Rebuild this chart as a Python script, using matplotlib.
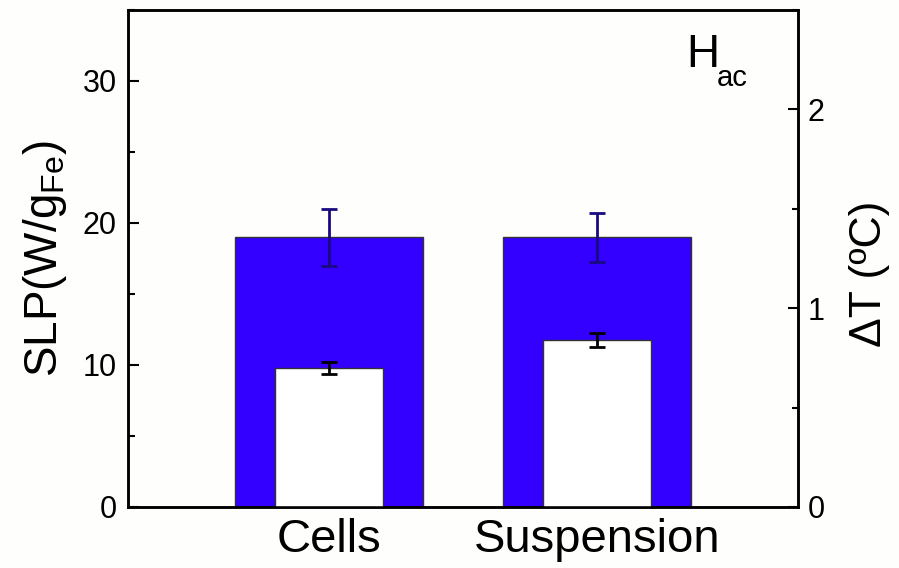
import matplotlib
matplotlib.use("Agg")
import matplotlib.pyplot as plt
from matplotlib.ticker import MultipleLocator

plt.rcParams['font.family'] = ['Liberation Sans', 'DejaVu Sans']
plt.rcParams['mathtext.default'] = 'regular'

# Data
categories = ["Cells", "Suspension"]
slp_values = [19.0, 19.0]          # W/g_Fe
slp_errors = [2.0, 1.72]
dt_values = [0.70, 0.84]           # degC
dt_errors = [0.03, 0.037]

positions = [1, 2]
bg = '#fefefc'

fig = plt.figure(figsize=(8.99, 5.68), dpi=100, facecolor=bg)
ax = fig.add_axes([128/899, 61/568, 670/899, 497/568], facecolor=bg)
ax2 = ax.twinx()

# SLP bars (left axis)
ax.bar(positions, slp_values, width=0.70, color='#3300ff', edgecolor='#333333',
       linewidth=1.0, zorder=2)
ax.errorbar(positions, slp_values, yerr=slp_errors, fmt='none', ecolor='#1a0a80',
            elinewidth=2.0, capsize=6, capthick=2.0, zorder=3)

# Temperature-rise bars (right axis)
ax2.bar(positions, dt_values, width=0.40, color='white', edgecolor='#333333',
        linewidth=1.0, zorder=2)
ax2.errorbar(positions, dt_values, yerr=dt_errors, fmt='none', ecolor='black',
             elinewidth=2.0, capsize=6, capthick=2.0, zorder=3)

ax.set_xlim(0.25, 2.75)
ax.set_ylim(0, 35)
ax2.set_ylim(0, 2.5)

ax.set_xticks(positions)
ax.set_xticklabels(categories, fontsize=34)
ax.tick_params(axis='x', length=0, pad=8)

ax.yaxis.set_major_locator(MultipleLocator(10))
ax.yaxis.set_minor_locator(MultipleLocator(5))
ax.tick_params(axis='y', which='major', direction='in', length=8, width=1.5,
               labelsize=22, pad=8)
ax.tick_params(axis='y', which='minor', direction='in', length=5, width=1.5)

ax2.yaxis.set_major_locator(MultipleLocator(1))
ax2.yaxis.set_minor_locator(MultipleLocator(0.5))
ax2.tick_params(axis='y', which='major', direction='in', length=7, width=1.5,
                labelsize=22, pad=7)
ax2.tick_params(axis='y', which='minor', direction='in', length=4, width=1.5)

for a in (ax, ax2):
    for s in a.spines.values():
        s.set_linewidth(1.8)

ax.set_ylabel('SLP(W/g$_{Fe}$)', fontsize=33, labelpad=10)
ax2.set_ylabel('ΔT (ºC)', fontsize=32, labelpad=12)
ax2.yaxis.set_label_coords(1.076, 0.47)

# Field label in the upper right corner
fig.text(686/899, 1 - 67/568, 'H', fontsize=33, ha='left', va='baseline')
fig.text(717/899, 1 - 86/568, 'ac', fontsize=21, ha='left', va='baseline')

fig.savefig('out.png', dpi=100, facecolor=bg)
